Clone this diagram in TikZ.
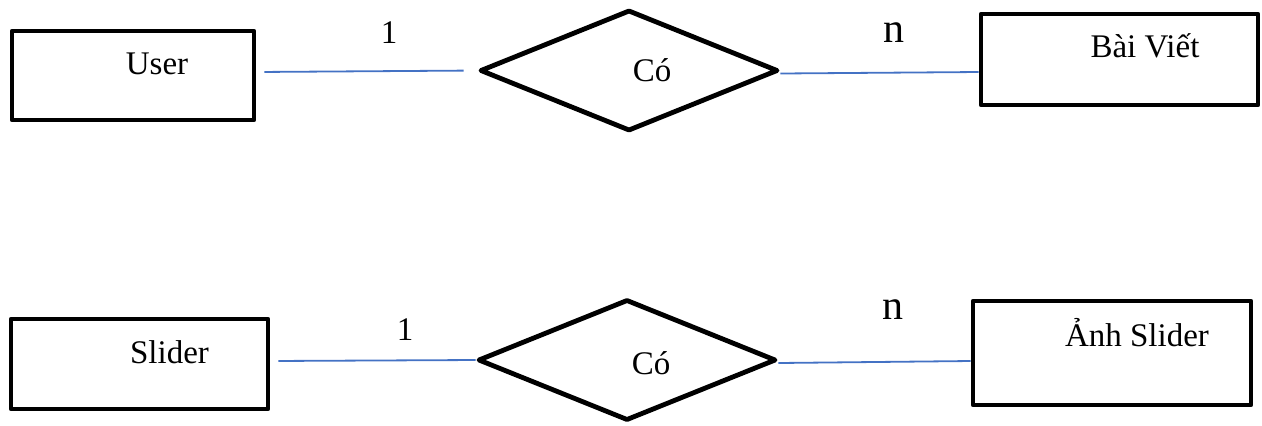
\documentclass[tikz,border=0pt]{standalone}
\usepackage{fontspec}
\setmainfont{Liberation Serif}
\usetikzlibrary{shapes.geometric}

\definecolor{linkblue}{HTML}{4472C4}

\tikzset{
    entity/.style={draw, line width=2.4pt, line join=round, inner sep=0pt},
    relation/.style={draw, diamond, line width=2.4pt, line join=round, inner sep=0pt,
        minimum width=149pt, minimum height=60.5pt},
    link/.style={draw=linkblue, line width=0.9pt},
    card/.style={inner sep=0pt}
}

\begin{document}
\begin{tikzpicture}[x=0.5pt,y=-0.5pt,
    font=\fontsize{16.5}{20}\selectfont]
    \useasboundingbox (0,0) rectangle (1262,425);

    % Top row
    \node[entity, minimum width=121pt, minimum height=44.5pt,
        label={[xshift=12pt,yshift=6pt]center:User}] (user) at (133,75.5) {};
    \node[relation, label={[xshift=11.5pt]center:Có}] (has1) at (629,70.5) {};
    \node[entity, minimum width=138.5pt, minimum height=45.5pt,
        label={[xshift=12.75pt,yshift=7pt]center:Bài Viết}] (post) at (1119.5,59.5) {};

    \draw[link, shorten <=4pt, shorten >=7pt] ([yshift=1.75pt]user.east) -- (has1.west);
    \draw[link] ([yshift=-1.5pt]has1.east) -- ([yshift=-6.25pt]post.west);

    % Cardinalities
    \node[card] (one1) at (389,33) {1};
    \node[card, font=\fontsize{21}{25}\selectfont] (many1) at (894,33) {n};

    % Bottom row
    \node[entity, minimum width=128.5pt, minimum height=45pt,
        label={[xshift=15pt,yshift=6pt]center:Slider}] (slider) at (139.5,364) {};
    \node[relation, label={[xshift=12pt,yshift=-1.5pt]center:Có}] (has2) at (627,360) {};
    \node[entity, minimum width=139pt, minimum height=52pt,
        label={[xshift=12.5pt,yshift=10pt]center:Ảnh Slider}] (image) at (1112,353) {};

    \draw[link, shorten <=4pt] ([yshift=1.5pt]slider.east) -- (has2.west);
    \draw[link] ([yshift=-1.5pt]has2.east) -- ([yshift=-4pt]image.west);

    % Cardinalities
    \node[card] (one2) at (405,330) {1};
    \node[card, font=\fontsize{21}{25}\selectfont] (many2) at (893,310) {n};
\end{tikzpicture}
\end{document}
